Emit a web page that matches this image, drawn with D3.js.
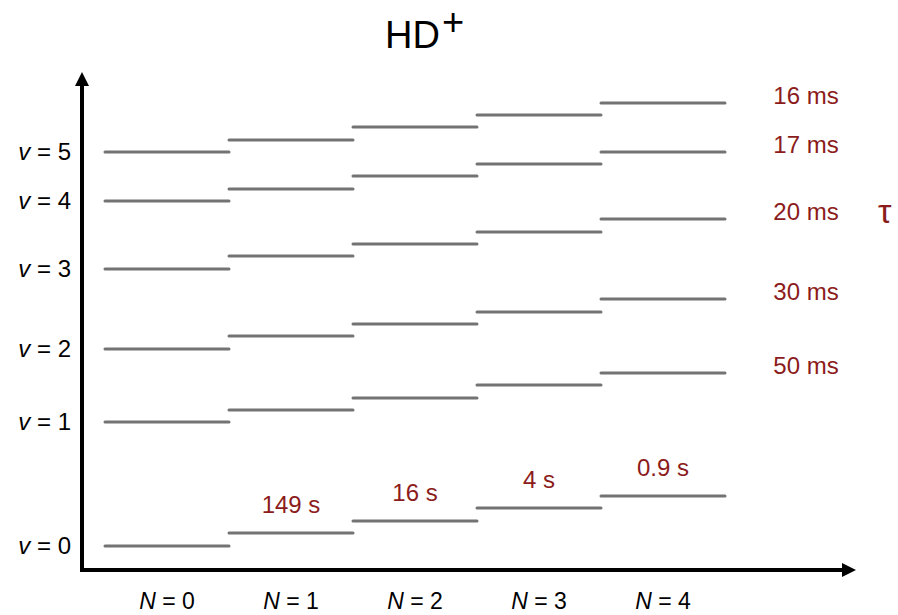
<!DOCTYPE html>
<html>
<head>
<meta charset="utf-8">
<script src="https://cdn.jsdelivr.net/npm/d3@7"></script>
<style>
  body { margin: 0; background: #fff; }
  svg { display: block; }
  text { font-family: "Liberation Sans", Arial, sans-serif; }
</style>
</head>
<body>
<div id="chart"></div>
<script>
// rotational quantum numbers (columns) and vibrational levels (rows)
const rotN = [0, 1, 2, 3, 4];
const vibV = [0, 1, 2, 3, 4, 5];

// level energies, arbitrary units, energy[v][N]
const energy = [
    [24, 37, 49, 62, 74],
    [148, 160, 172, 185, 197],
    [221, 234, 246, 258, 271],
    [301, 314, 326, 338, 351],
    [369, 381, 394, 406, 418],
    [418, 430, 443, 455, 467]
];

// lifetimes of v = 1..5 (shown at N = 4) and of v = 0, N = 1..4
const vibLifetimes = ["50 ms", "30 ms", "20 ms", "17 ms", "16 ms"];
const rotLifetimes = ["149 s", "16 s", "4 s", "0.9 s"];

const W = 898, H = 615;
const x0 = 82, yBase = 570;
const red = "#8c1b1b", grey = "#737373";

const svg = d3.select("#chart").append("svg")
    .attr("width", W)
    .attr("height", H);

const x = d3.scaleBand()
    .domain(rotN)
    .range([105, 725])
    .padding(0);

const y = d3.scaleLinear()
    .domain([0, 500])
    .range([yBase, 70]);

// title
const title = svg.append("text")
    .attr("x", 385)
    .attr("y", 48)
    .attr("font-size", 38)
    .attr("fill", "#000");
title.append("tspan").text("HD");
title.append("tspan")
    .attr("dx", 2)
    .attr("dy", -13)
    .attr("font-size", 38)
    .text("+");

// axes with arrow heads
svg.append("path")
    .attr("d", `M${x0},${y(500) + 14}V${yBase}H${856 - 13}`)
    .attr("fill", "none")
    .attr("stroke", "#000")
    .attr("stroke-width", 4);

svg.append("path")
    .attr("d", `M${x0},${y(500) + 2}l-7,14h14z`)
    .attr("fill", "#000");

svg.append("path")
    .attr("d", `M856,${yBase}l-14,-7v14z`)
    .attr("fill", "#000");

// energy levels
const levels = [];
vibV.forEach(v => rotN.forEach(n => levels.push({v: v, n: n, e: energy[v][n]})));

svg.append("g").selectAll("line")
    .data(levels)
    .join("line")
    .attr("x1", d => x(d.n))
    .attr("x2", d => x(d.n) + x.bandwidth())
    .attr("y1", d => y(d.e))
    .attr("y2", d => y(d.e))
    .attr("stroke", grey)
    .attr("stroke-width", 3)
    .attr("stroke-linecap", "round");

// v labels
const vLab = svg.append("g").selectAll("text")
    .data(vibV)
    .join("text")
    .attr("x", 71)
    .attr("y", v => y(energy[v][0]))
    .attr("dy", "0.35em")
    .attr("text-anchor", "end")
    .attr("font-size", 24)
    .attr("fill", "#000");
vLab.append("tspan").attr("font-style", "italic").text("v");
vLab.append("tspan").text(v => " = " + v);

// N labels
const nLab = svg.append("g").selectAll("text")
    .data(rotN)
    .join("text")
    .attr("x", n => x(n) + x.bandwidth() / 2)
    .attr("y", 609)
    .attr("text-anchor", "middle")
    .attr("font-size", 23)
    .attr("fill", "#000");
nLab.append("tspan").attr("font-style", "italic").text("N");
nLab.append("tspan").text(n => " = " + n);

// vibrational lifetimes on the right
svg.append("g").selectAll("text")
    .data(vibLifetimes)
    .join("text")
    .attr("x", 806)
    .attr("y", (d, i) => y(energy[i + 1][4]) - 7)
    .attr("dy", "0.35em")
    .attr("text-anchor", "middle")
    .attr("font-size", 24)
    .attr("fill", red)
    .text(d => d);

// rotational lifetimes above v = 0
svg.append("g").selectAll("text")
    .data(rotLifetimes)
    .join("text")
    .attr("x", (d, i) => x(i + 1) + x.bandwidth() / 2)
    .attr("y", (d, i) => y(energy[0][i + 1]) - 28)
    .attr("dy", "0.35em")
    .attr("text-anchor", "middle")
    .attr("font-size", 24)
    .attr("fill", red)
    .text(d => d);

// tau
svg.append("text")
    .attr("x", 878)
    .attr("y", 211)
    .attr("dy", "0.35em")
    .attr("font-family", "DejaVu Serif, serif")
    .attr("font-size", 34)
    .attr("fill", red)
    .text("τ");
</script>
</body>
</html>
